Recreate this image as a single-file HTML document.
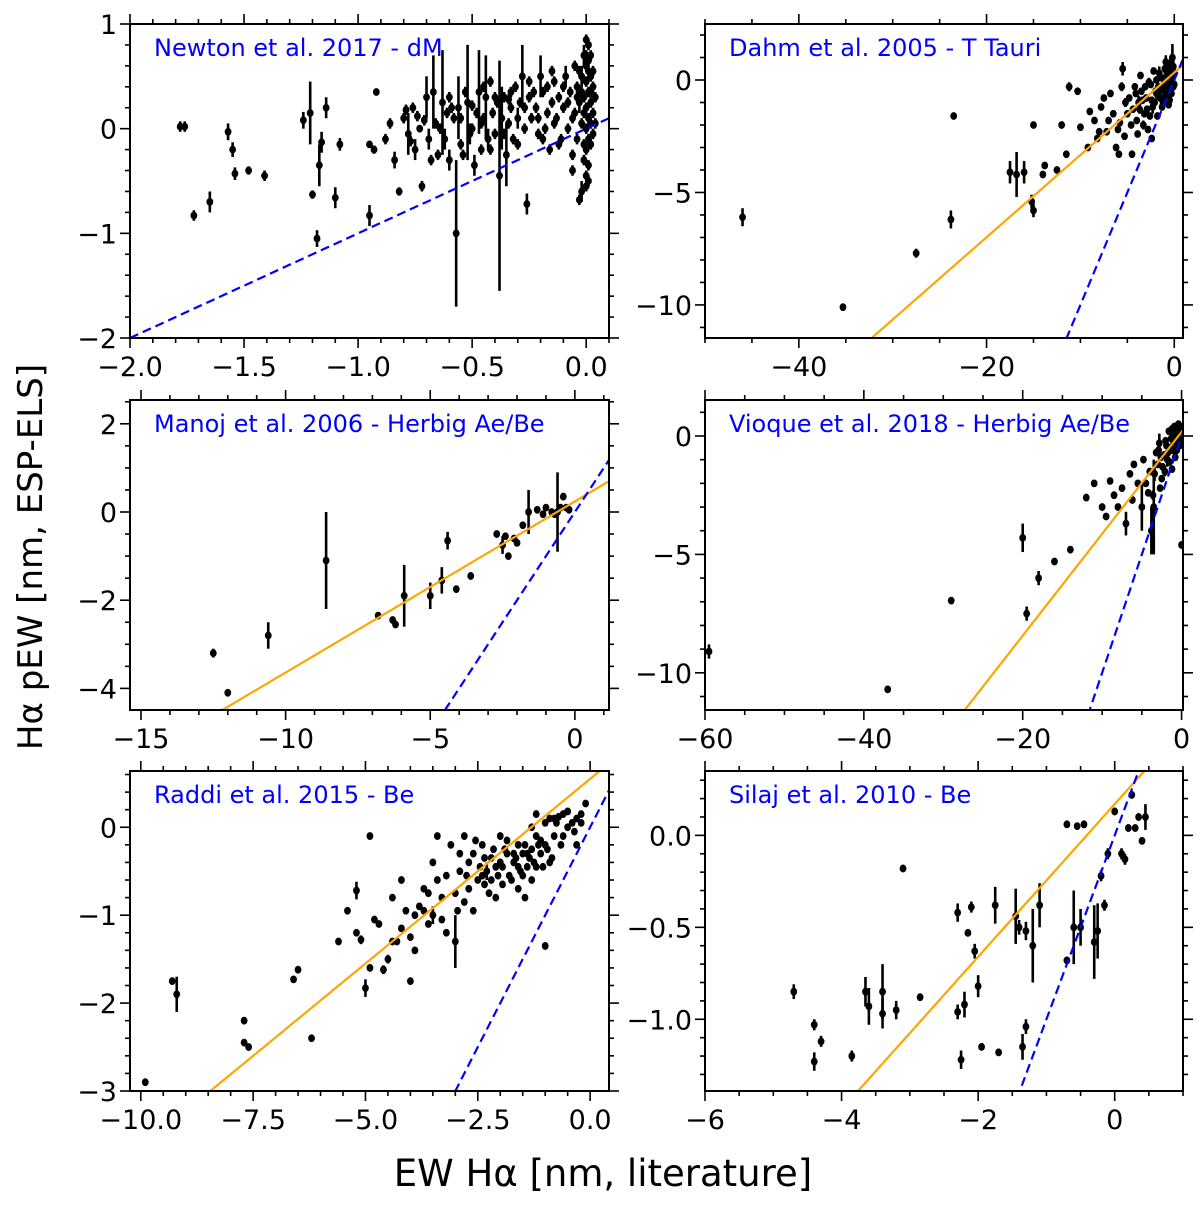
<!DOCTYPE html>
<html><head><meta charset="utf-8"><style>
html,body{margin:0;padding:0;background:#fff;width:1200px;height:1205px;overflow:hidden;}
svg{display:block;font-family:"DejaVu Sans","Liberation Sans",sans-serif;}
</style></head><body>
<svg id="fig" width="1200" height="1205" viewBox="0 0 1200 1205">
<text x="603" y="1186" font-size="37" text-anchor="middle">EW Hα [nm, literature]</text>
<text x="0" y="0" font-size="34" text-anchor="middle" transform="translate(42,557) rotate(-90)">Hα pEW [nm, ESP-ELS]</text>
</svg>
<script>
// ---- data: [x, y, yerr] ----
const newtonPts = [[-1.78,0.02,0.05],[-1.76,0.02,0.05],[-1.72,-0.83,0.05],[-1.65,-0.7,0.1],[-1.57,-0.03,0.08],[-1.55,-0.2,0.07],[-1.54,-0.43,0.06],[-1.48,-0.4,0.04],[-1.41,-0.45,0.05],[-1.24,0.08,0.08],[-1.21,0.15,0.3],[-1.2,-0.63,0.04],[-1.18,-1.05,0.08],[-1.17,-0.35,0.2],[-1.16,-0.13,0.1],[-1.14,0.2,0.1],[-1.1,-0.66,0.1],[-1.08,-0.15,0.06],[-0.95,-0.83,0.1],[-0.92,0.35,0.03],[-0.95,-0.15,0.03],[-0.93,-0.2,0.04],[-0.88,-0.1,0.05],[-0.86,0.05,0.05],[-0.84,-0.3,0.08],[-0.82,-0.6,0.04],[-0.8,0.1,0.05],[-0.78,-0.05,0.2],[-0.76,0.2,0.05],[-0.75,-0.2,0.1],[-0.73,0.0,0.03],[-0.72,-0.55,0.05],[-0.7,0.3,0.2],[-0.69,-0.1,0.1],[-0.67,0.35,0.35],[-0.66,0.05,0.05],[-0.65,-0.25,0.05],[-0.63,0.25,0.5],[-0.62,-0.1,0.1],[-0.61,0.15,0.05],[-0.6,-0.3,0.1],[-0.58,0.1,0.05],[-0.57,-1.0,0.7],[-0.56,0.2,0.3],[-0.55,-0.15,0.05],[-0.53,0.35,0.05],[-0.52,0.25,0.55],[-0.51,-0.05,0.1],[-0.5,0.0,0.05],[-0.49,-0.35,0.1],[-0.48,0.15,0.05],[-0.47,0.35,0.4],[-0.46,-0.2,0.05],[-0.45,0.1,0.05],[-0.44,0.3,0.4],[-0.43,-0.1,0.1],[-0.42,0.45,0.05],[-0.41,0.15,0.05],[-0.4,-0.05,0.05],[-0.39,0.25,0.05],[-0.38,-0.45,1.1],[-0.37,0.1,0.3],[-0.36,0.3,0.05],[-0.35,-0.25,0.3],[-0.34,0.05,0.05],[-0.33,0.2,0.05],[-0.32,-0.1,0.05],[-0.31,0.4,0.05],[-0.3,0.1,0.1],[-0.29,0.25,0.05],[-0.28,0.5,0.3],[-0.27,0.0,0.05],[-0.26,-0.72,0.1],[-0.25,0.3,0.05],[-0.24,0.1,0.05],[-0.22,0.2,0.05],[-0.21,-0.05,0.05],[-0.2,0.5,0.2],[-0.19,0.35,0.05],[-0.18,0.0,0.05],[-0.17,0.15,0.05],[-0.16,-0.2,0.05],[-0.15,0.25,0.05],[-0.14,0.45,0.05],[-0.13,0.1,0.05],[-0.12,0.3,0.05],[-0.11,-0.1,0.05],[-0.1,0.2,0.05],[-0.09,0.5,0.1],[-0.08,0.0,0.05],[-0.07,0.35,0.05],[-0.06,-0.25,0.05],[-0.05,0.15,0.05],[-0.05,0.6,0.05],[-0.04,-0.1,0.05],[-0.04,0.4,0.05],[-0.03,0.25,0.1],[-0.03,-0.68,0.05],[-0.02,0.5,0.1],[-0.02,0.05,0.05],[-0.02,-0.6,0.1],[-0.01,0.7,0.1],[-0.01,0.3,0.05],[-0.01,-0.3,0.05],[0.0,0.85,0.05],[0.0,0.6,0.05],[0.0,0.45,0.05],[0.0,0.2,0.05],[0.0,0.0,0.05],[0.0,-0.2,0.05],[0.0,-0.45,0.05],[0.01,0.8,0.05],[0.01,0.55,0.05],[0.01,0.35,0.05],[0.01,0.1,0.05],[0.01,-0.1,0.05],[0.01,-0.35,0.05],[0.02,0.7,0.05],[0.02,0.5,0.05],[0.02,0.25,0.05],[0.02,0.05,0.05],[0.02,-0.15,0.05],[0.03,0.4,0.05],[0.03,0.15,0.05],[0.03,-0.05,0.05],[-0.34,0.28,0.05],[-0.55,0.1,0.05],[-0.74,0.12,0.05],[-0.6,0.3,0.05],[-0.45,0.4,0.05],[-0.25,0.45,0.05],[-0.15,0.55,0.05],[-0.79,0.18,0.05],[-0.77,-0.12,0.05],[-0.71,0.08,0.05],[-0.68,-0.3,0.05],[-0.64,0.0,0.05],[-0.59,0.2,0.05],[-0.54,-0.25,0.05],[-0.5,0.22,0.05],[-0.46,0.05,0.05],[-0.42,-0.2,0.05],[-0.4,0.3,0.05],[-0.36,-0.05,0.05],[-0.33,0.35,0.05],[-0.3,-0.15,0.05],[-0.27,0.2,0.05],[-0.23,0.35,0.05],[-0.21,0.1,0.05],[-0.19,-0.1,0.05],[-0.17,0.4,0.05],[-0.14,0.05,0.05],[-0.12,-0.15,0.05],[-0.1,0.4,0.05],[-0.08,0.25,0.05],[-0.06,0.1,0.05],[-0.04,0.3,0.05],[-0.03,0.55,0.05],[-0.02,0.35,0.05],[-0.01,0.15,0.05],[0.0,0.7,0.05],[0.01,0.65,0.05],[0.02,0.35,0.05],[0.0,-0.55,0.05],[0.01,-0.5,0.05],[-0.01,-0.15,0.05],[0.03,0.55,0.05],[0.04,0.3,0.05],[0.04,0.05,0.05],[-0.06,-0.4,0.05]];
const dahmPts = [[-46,-6.1,0.4],[-35.3,-10.1,0.15],[-27.5,-7.7,0.2],[-23.8,-6.2,0.4],[-23.5,-1.6,0.15],[-17.5,-4.1,0.5],[-16.8,-4.2,1.0],[-16,-4.1,0.5],[-15.2,-5.4,0.3],[-15,-5.8,0.3],[-15,-2,0.15],[-14,-4.2,0.1],[-13.8,-3.8,0.1],[-12.5,-4,0.1],[-12,-2,0.1],[-11.5,-3.3,0.1],[-11.2,-0.3,0.2],[-10.3,-0.5,0.1],[-10,-2.1,0.1],[-9.2,-3.0,0.1],[-8.5,-1.8,0.1],[-8,-2.3,0.1],[-7.5,-0.8,0.1],[-7.2,-2.3,0.1],[-6.5,-1.5,0.1],[-6.2,-3.0,0.1],[-5.6,-0.3,0.2],[-5.5,0.5,0.3],[-5.3,-2.5,0.1],[-5,-1.5,0.1],[-4.8,-0.8,0.1],[-4.5,-3.3,0.1],[-4,-1.8,0.1],[-3.8,-1.0,0.3],[-3.5,-0.5,0.1],[-3.2,-1.5,0.1],[-3,-0.8,0.1],[-2.8,-2.2,0.1],[-2.5,-0.2,0.1],[-2.3,-1.2,0.3],[-2,-0.5,0.1],[-1.8,-1.6,0.1],[-1.6,0.3,0.3],[-1.5,-0.8,0.1],[-1.3,-1.2,0.1],[-1.1,-0.2,0.1],[-1,0.5,0.4],[-0.8,-0.6,0.1],[-0.7,0.2,0.1],[-0.5,-0.9,0.1],[-0.3,0.1,0.3],[-0.2,1.0,0.6],[-0.1,-0.3,0.1],[0,0.3,0.3],[-4.2,-0.3,0.1],[-3.6,0.2,0.1],[-2.7,-0.1,0.2],[-2.2,0.4,0.1],[-1.9,-0.6,0.3],[-1.4,0.1,0.1],[-0.9,-0.1,0.2],[-0.6,0.6,0.3],[-0.4,-0.4,0.1],[-6.8,-0.6,0.1],[-5.8,-1.9,0.1],[-4.4,-1.3,0.1],[-3.3,-2.0,0.2],[-2.4,-0.9,0.1],[-1.2,-1.0,0.1],[-0.9,0.8,0.3],[-0.5,0.2,0.1],[-0.3,-0.6,0.1],[-0.2,0.5,0.1],[-1.7,-0.3,0.1],[-2.9,-1.3,0.1],[-3.9,-2.4,0.1],[-7.8,-1.2,0.1],[-9,-1.4,0.1],[-5.2,-1.0,0.2],[-4.6,-2.0,0.1],[-4.1,-0.6,0.1],[-3.7,-1.3,0.2],[-3.4,-0.9,0.1],[-3.1,-0.3,0.1],[-2.6,-1.6,0.1],[-2.1,-1.0,0.1],[-1.9,0.0,0.1],[-1.6,-0.5,0.2],[-1.3,-0.4,0.1],[-1.0,-0.7,0.1],[-0.8,0.4,0.2],[-0.7,-0.3,0.1],[-0.6,-1.1,0.1],[-0.4,0.7,0.3],[-0.3,0.4,0.2],[-0.2,-0.1,0.1],[-0.1,0.6,0.4],[-0.1,0.2,0.1],[0,-0.2,0.1],[-6.0,-2.2,0.1],[-7.0,-1.8,0.1],[-8.2,-2.6,0.1],[-2.4,-2.6,0.1],[-5.9,-3.3,0.1]];
const manojPts = [[-12.5,-3.2,0.1],[-12,-4.1,0.05],[-10.6,-2.8,0.3],[-8.6,-1.1,1.1],[-6.8,-2.35,0.05],[-6.3,-2.45,0.05],[-6.2,-2.55,0.05],[-5.9,-1.9,0.7],[-5,-1.9,0.3],[-4.6,-1.55,0.3],[-4.4,-0.65,0.2],[-4.1,-1.75,0.05],[-3.6,-1.45,0.05],[-2.7,-0.5,0.05],[-2.5,-0.75,0.2],[-2.4,-0.55,0.05],[-2.3,-1.0,0.05],[-2.1,-0.6,0.05],[-2.0,-0.7,0.05],[-1.8,-0.3,0.05],[-1.6,0.0,0.5],[-1.3,0.05,0.05],[-1.1,-0.05,0.05],[-1.0,0.1,0.05],[-0.8,0.0,0.05],[-0.7,-0.05,0.05],[-0.6,0.0,0.9],[-0.5,0.1,0.05],[-0.4,0.35,0.05],[-0.3,0.1,0.05],[-0.2,0.05,0.05]];
const viquePts = [[-59.5,-9.1,0.3],[-37,-10.7,0.1],[-29,-6.95,0.1],[-20,-4.3,0.6],[-19.5,-7.5,0.3],[-18,-6.0,0.3],[-16,-5.3,0.1],[-14,-4.8,0.1],[-12,-2.6,0.1],[-11,-2.0,0.1],[-10,-3.0,0.1],[-9,-1.9,0.1],[-8.5,-2.5,0.1],[-8,-3.0,0.1],[-7.5,-2.2,0.1],[-7,-3.7,0.5],[-6.5,-1.6,0.1],[-6,-1.2,0.1],[-5.5,-2.0,0.1],[-5,-3.0,1.0],[-4.5,-2.0,0.1],[-4,-1.5,0.1],[-3.8,-4.0,1.0],[-3.5,-3.0,2.0],[-3.2,-0.7,0.1],[-3,-1.2,0.1],[-2.8,-0.3,0.4],[-2.5,-1.8,0.1],[-2.2,-0.8,0.1],[-2,-0.2,0.1],[-1.8,-1.0,0.3],[-1.6,0.2,0.1],[-1.4,-0.5,0.1],[-1.2,0.3,0.1],[-1,-0.3,0.1],[-0.8,0.1,0.1],[-0.6,0.3,0.1],[-0.4,-0.1,0.1],[-0.2,0.2,0.1],[0,-4.6,0.1],[-2.6,-0.9,0.1],[-1.9,-0.4,0.1],[-1.3,-0.1,0.1],[-0.9,0.4,0.1],[-0.5,0.0,0.1],[-0.3,0.4,0.1],[-0.1,-0.2,0.1],[-4.2,-2.4,0.1],[-3.4,-1.6,0.3],[-2.4,-1.3,0.1],[-1.7,-0.7,0.1],[-1.1,-0.6,0.1],[-0.7,-0.3,0.1],[-6.2,-2.7,0.1],[-9.5,-3.4,0.1],[-2.9,-0.6,0.1],[-2.1,-1.5,0.2],[-1.5,-1.1,0.1],[-1.0,0.0,0.1],[-0.6,-0.6,0.1],[-0.3,0.0,0.1],[-0.2,-0.4,0.1],[-0.1,0.4,0.1],[-4.8,-1.0,0.1],[-3.6,-2.5,0.2],[-2.7,-2.2,0.1],[-1.2,-1.4,0.1],[-0.8,-0.9,0.1],[-0.4,0.5,0.1]];
const raddiPts = [[-9.9,-2.9,0.03],[-9.3,-1.75,0.03],[-9.2,-1.9,0.2],[-7.7,-2.2,0.03],[-7.7,-2.45,0.03],[-7.6,-2.5,0.03],[-6.5,-1.62,0.03],[-6.6,-1.73,0.03],[-6.2,-2.4,0.03],[-5.4,-0.95,0.03],[-5.2,-0.72,0.1],[-5.2,-1.2,0.03],[-5.1,-1.28,0.05],[-5,-1.83,0.1],[-4.9,-0.1,0.03],[-4.8,-1.05,0.03],[-4.6,-1.62,0.05],[-4.5,-1.5,0.05],[-4.4,-1.3,0.03],[-4.3,-1.3,0.03],[-4.2,-0.6,0.03],[-4,-1.25,0.03],[-4,-1.75,0.03],[-3.8,-0.9,0.03],[-3.7,-0.7,0.03],[-3.6,-1.1,0.03],[-3.5,-1.0,0.1],[-3.4,-0.6,0.03],[-3.3,-0.8,0.03],[-3.2,-1.2,0.03],[-3.1,-0.2,0.03],[-3.0,-1.3,0.3],[-2.9,-0.5,0.03],[-2.8,-0.1,0.03],[-2.7,-0.7,0.03],[-2.6,-0.3,0.03],[-2.5,-0.6,0.03],[-2.4,-0.2,0.03],[-2.3,-0.5,0.1],[-2.2,-0.35,0.03],[-2.1,-0.8,0.03],[-2,-0.4,0.03],[-1.9,-0.25,0.03],[-1.8,-0.55,0.03],[-1.7,-0.4,0.03],[-1.6,-0.2,0.03],[-1.5,-0.3,0.03],[-1.4,-0.45,0.03],[-1.3,-0.25,0.03],[-1.2,-0.1,0.03],[-1.1,-0.3,0.03],[-1.0,-0.2,0.03],[-0.9,0.1,0.03],[-0.8,-0.1,0.03],[-0.6,0.15,0.03],[-0.4,0.05,0.03],[-0.3,0.1,0.03],[-0.1,0.27,0.03],[-1.0,-1.35,0.03],[-2.9,-0.3,0.03],[-3.4,-0.1,0.03],[-2.6,-0.95,0.03],[-2.45,-0.45,0.03],[-2.35,-0.65,0.03],[-2.15,-0.25,0.03],[-2.05,-0.55,0.03],[-1.95,-0.45,0.03],[-1.85,-0.3,0.03],[-1.75,-0.6,0.03],[-1.65,-0.35,0.03],[-1.55,-0.5,0.03],[-1.45,-0.2,0.03],[-1.35,-0.35,0.03],[-1.25,-0.4,0.03],[-1.15,-0.2,0.03],[-1.05,-0.45,0.03],[-0.95,-0.25,0.03],[-0.85,-0.35,0.03],[-0.75,0.05,0.03],[-0.65,-0.2,0.03],[-0.5,0.0,0.03],[-1.2,0.15,0.03],[-0.7,0.12,0.03],[-2.7,-0.4,0.03],[-3.0,-0.75,0.03],[-3.6,-0.75,0.03],[-3.9,-1.0,0.03],[-4.1,-0.95,0.03],[-2.2,-0.6,0.03],[-1.6,-0.7,0.03],[-1.3,-0.6,0.03],[-2.8,-0.85,0.03],[-3.3,-1.05,0.03],[-0.3,-0.2,0.03],[-0.2,0.05,0.03],[-4.7,-1.1,0.03],[-4.4,-0.8,0.03],[-3.9,-1.4,0.03],[-3.5,-0.4,0.03],[-3.2,-0.55,0.03],[-2.95,-0.95,0.03],[-2.75,-0.55,0.03],[-2.55,-0.15,0.03],[-2.35,-0.35,0.03],[-2.25,-0.75,0.03],[-2.1,-0.45,0.03],[-1.95,-0.65,0.03],[-1.85,-0.15,0.03],[-1.7,-0.3,0.03],[-1.6,-0.45,0.03],[-1.5,-0.55,0.03],[-1.4,-0.3,0.03],[-1.3,0.0,0.03],[-1.2,-0.45,0.03],[-1.1,-0.15,0.03],[-0.9,-0.4,0.03],[-0.8,0.1,0.03],[-0.6,-0.1,0.03],[-0.5,0.18,0.03],[-0.35,-0.05,0.03],[-0.2,0.15,0.03],[-5.6,-1.3,0.03],[-4.9,-1.6,0.03],[-4.2,-1.15,0.03],[-3.7,-0.95,0.03],[-2.0,-0.1,0.03],[-1.0,0.05,0.03],[-1.45,-0.8,0.03],[-2.4,-0.55,0.03]];
const silajPts = [[-4.7,-0.85,0.04],[-4.4,-1.23,0.05],[-4.4,-1.03,0.03],[-4.3,-1.12,0.03],[-3.85,-1.2,0.03],[-3.65,-0.85,0.08],[-3.6,-0.93,0.1],[-3.4,-0.85,0.15],[-3.4,-0.97,0.08],[-3.2,-0.95,0.05],[-3.1,-0.18,0.02],[-2.85,-0.88,0.02],[-2.3,-0.42,0.05],[-2.3,-0.96,0.04],[-2.25,-1.22,0.05],[-2.2,-0.92,0.07],[-2.15,-0.53,0.02],[-2.1,-0.39,0.03],[-2.05,-0.63,0.04],[-2.0,-0.82,0.06],[-1.95,-1.15,0.02],[-1.75,-0.38,0.1],[-1.7,-1.18,0.02],[-1.45,-0.44,0.15],[-1.4,-0.5,0.04],[-1.35,-1.15,0.07],[-1.3,-1.04,0.04],[-1.3,-0.52,0.05],[-1.2,-0.6,0.2],[-1.1,-0.38,0.12],[-0.7,-0.68,0.02],[-0.6,-0.5,0.2],[-0.7,0.06,0.02],[-0.5,-0.5,0.1],[-0.45,0.06,0.02],[-0.3,-0.58,0.2],[-0.25,-0.52,0.15],[-0.15,-0.38,0.03],[-0.1,-0.1,0.03],[0,0.13,0.02],[0.1,-0.1,0.03],[0.15,-0.13,0.03],[0.2,0.04,0.02],[0.25,0.22,0.02],[0.3,0.04,0.02],[0.35,0.1,0.02],[0.45,0.1,0.07],[0.4,-0.03,0.02],[-0.55,0.05,0.02],[-0.2,-0.22,0.03]];
// fit lines: [slope, intercept]; blue dashed is y = x
const fitSlopes = [null, 0.366, 0.388, 0.43, 0.42, 0.415];
const fitIntercepts = [null, 0.33, 0.24, 0.17, 0.55, 0.17];
const titles = ["Newton et al. 2017 - dM","Dahm et al. 2005 - T Tauri","Manoj et al. 2006 - Herbig Ae/Be","Vioque et al. 2018 - Herbig Ae/Be","Raddi et al. 2015 - Be","Silaj et al. 2010 - Be"];
const xTickLabels = [["−2.0","−1.5","−1.0","−0.5","0.0"],["−40","−20","0"],["−15","−10","−5","0"],["−60","−40","−20","0"],["−10.0","−7.5","−5.0","−2.5","0.0"],["−6","−4","−2","0"]];
const yTickLabels = [["−2","−1","0","1"],["−10","−5","0"],["−4","−2","0","2"],["−10","−5","0"],["−3","−2","−1","0"],["−1.0","−0.5","0.0"]];

// ---- layout ----
const panels = [
 {name:"newton",pts:newtonPts,L:130,R:609,T:24,B:338,x0:-2.0,x1:0.1,y0:-2,y1:1,xmaj:0.5,xmin:0.1,ymaj:1,ymin:0.2,xs:-2,ys:-2},
 {name:"dahm",pts:dahmPts,L:705,R:1183,T:24,B:338,x0:-50,x1:0.93,y0:-11.47,y1:2.49,xmaj:20,xmin:5,ymaj:5,ymin:1,xs:-40,ys:-10},
 {name:"manoj",pts:manojPts,L:130,R:609,T:400,B:710,x0:-15.38,x1:1.18,y0:-4.49,y1:2.54,xmaj:5,xmin:1,ymaj:2,ymin:0.5,xs:-15,ys:-4},
 {name:"vioque",pts:viquePts,L:705,R:1183,T:400,B:710,x0:-60,x1:0.18,y0:-11.57,y1:1.52,xmaj:20,xmin:5,ymaj:5,ymin:1,xs:-60,ys:-10},
 {name:"raddi",pts:raddiPts,L:130,R:609,T:771,B:1091,x0:-10.24,x1:0.42,y0:-3.0,y1:0.64,xmaj:2.5,xmin:0.5,ymaj:1,ymin:0.2,xs:-10,ys:-3},
 {name:"silaj",pts:silajPts,L:705,R:1183,T:771,B:1091,x0:-6,x1:1.0,y0:-1.39,y1:0.35,xmaj:2,xmin:0.5,ymaj:0.5,ymin:0.1,xs:-6,ys:-1}
];
const NS="http://www.w3.org/2000/svg";
const svg=document.getElementById('fig');
function mk(tag,attrs,parent){const e=document.createElementNS(NS,tag);for(const k in attrs)e.setAttribute(k,attrs[k]);parent.appendChild(e);return e;}

panels.forEach((p,i)=>{
  const g=mk('g',{},svg);
  
  
  const sx=v=>p.L+(v-p.x0)/(p.x1-p.x0)*(p.R-p.L);
  const sy=v=>p.B-(v-p.y0)/(p.y1-p.y0)*(p.B-p.T);
  const cid='clip'+i;
  const cp=mk('clipPath',{id:cid},g);mk('rect',{x:p.L,y:p.T,width:p.R-p.L,height:p.B-p.T},cp);
  const plot=mk('g',{'clip-path':'url(#'+cid+')'},g);
  
  
  p.pts.forEach(d=>{
    const x=sx(d[0]),y=sy(d[1]);
    const eb=mk('line',{x1:x,x2:x,y1:sy(d[1]-d[2]),y2:sy(d[1]+d[2]),stroke:'#000','stroke-width':2.6},plot);
    
    
    const c=mk('ellipse',{cx:x,cy:y,rx:3.4,ry:3.9,fill:'#000'},plot);
    
    
  });
  if(fitSlopes[i]!==null){
    const f=v=>fitSlopes[i]*v+fitIntercepts[i];
    const fl=mk('line',{x1:sx(p.x0),y1:sy(f(p.x0)),x2:sx(p.x1),y2:sy(f(p.x1)),stroke:'#ffa500','stroke-width':2.2},plot);
    
    
  }
  const ll=mk('line',{x1:sx(p.x0),y1:sy(p.x0),x2:sx(p.x1),y2:sy(p.x1),stroke:'#0000ff','stroke-width':2.2,'stroke-dasharray':'9,5'},plot);
  
  
  const fr=mk('rect',{x:p.L,y:p.T,width:p.R-p.L,height:p.B-p.T,fill:'none',stroke:'#000','stroke-width':2},g);
  
  
  const eps=1e-6;
  for(let v=Math.ceil((p.x0-eps)/p.xmin)*p.xmin; v<=p.x1+eps; v+=p.xmin){
    const vv=Math.round(v/p.xmin)*p.xmin;const x=sx(vv);
    const maj=Math.abs(vv/p.xmaj-Math.round(vv/p.xmaj))<1e-4;const len=maj?10:5;
    mk('line',{x1:x,x2:x,y1:p.B,y2:p.B+len,stroke:'#000','stroke-width':1.6},g);
    mk('line',{x1:x,x2:x,y1:p.T,y2:p.T-len,stroke:'#000','stroke-width':1.6},g);
  }
  for(let v=Math.ceil((p.y0-eps)/p.ymin)*p.ymin; v<=p.y1+eps; v+=p.ymin){
    const vv=Math.round(v/p.ymin)*p.ymin;const y=sy(vv);
    const maj=Math.abs(vv/p.ymaj-Math.round(vv/p.ymaj))<1e-4;const len=maj?10:5;
    mk('line',{x1:p.L,x2:p.L-len,y1:y,y2:y,stroke:'#000','stroke-width':1.6},g);
    mk('line',{x1:p.R,x2:p.R+len,y1:y,y2:y,stroke:'#000','stroke-width':1.6},g);
  }
  xTickLabels[i].forEach((lab,k)=>{
    const t=mk('text',{x:sx(p.xs+k*p.xmaj),y:p.B+38,'font-size':27,'text-anchor':'middle'},g);
    t.textContent=lab;
    
    
  });
  yTickLabels[i].forEach((lab,k)=>{
    const t=mk('text',{x:p.L-13,y:sy(p.ys+k*p.ymaj)+10,'font-size':27,'text-anchor':'end'},g);
    t.textContent=lab;
    
    
  });
  const tt=mk('text',{x:p.L+24,y:p.T+32,'font-size':24,fill:'#0000ff'},g);
  tt.textContent=titles[i];
  
  
});
</script>
</body></html>
